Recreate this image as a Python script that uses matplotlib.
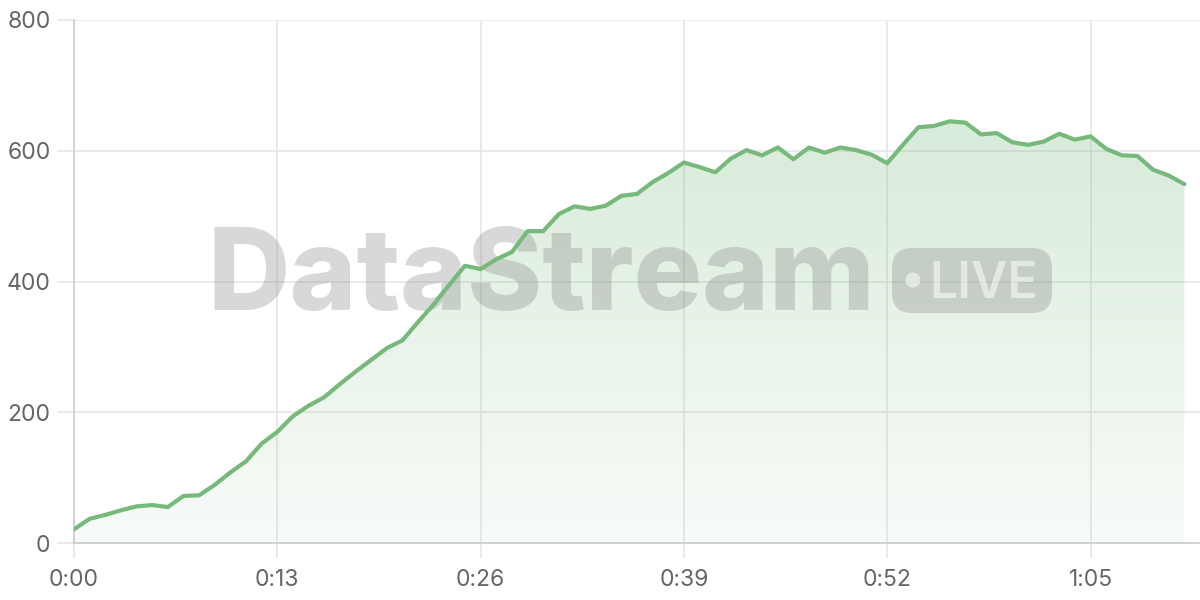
import numpy as np
import matplotlib
matplotlib.use('Agg')
import matplotlib.pyplot as plt
from matplotlib.patches import FancyBboxPatch, Circle
from matplotlib.colors import LinearSegmentedColormap

# one reading per second, 0:00 .. 1:11
seconds = list(range(72))
values = [21, 37, 43, 50, 56, 58, 55, 72, 73, 89,
          108, 125, 152, 170, 194, 210, 223, 243, 262, 280,
          298, 310, 338, 365, 395, 424, 419, 434, 445, 477,
          477, 503, 515, 511, 516, 531, 534, 552, 566, 582,
          575, 567, 588, 601, 593, 605, 587, 605, 597, 605,
          601, 594, 581, 609, 636, 638, 645, 643, 625, 627,
          613, 609, 614, 626, 617, 622, 603, 593, 592, 571,
          562, 549]
x_ticks = [0, 13, 26, 39, 52, 65]
x_labels = ['0:00', '0:13', '0:26', '0:39', '0:52', '1:05']
y_ticks = [0, 200, 400, 600, 800]

line_color = '#76b97b'
grid_color = '#e6e6e6'
text_color = '#666666'

plt.rcParams['font.family'] = ['Inter', 'DejaVu Sans']

fig = plt.figure(figsize=(12, 6), dpi=100)
ax = fig.add_axes([74 / 1200, 57 / 600, 1126 / 1200, 523 / 600])
ax.set_xlim(0, 72)
ax.set_ylim(0, 800)

# gradient fill under the line
cmap = LinearSegmentedColormap.from_list(
    'g', [(0.455, 0.725, 0.478, 0.05), (0.455, 0.725, 0.478, 0.30)])
grad = np.linspace(0, 1, 256).reshape(-1, 1)
img = ax.imshow(grad, cmap=cmap, origin='lower', aspect='auto',
                extent=[0, 72, 0, 700], zorder=1)
poly = ax.fill_between(seconds, values, 0, color='none', lw=0)
img.set_clip_path(poly.get_paths()[0], transform=ax.transData)

ax.plot(seconds, values, color=line_color, lw=3, zorder=5,
        solid_joinstyle='round', solid_capstyle='round')

# watermark text sits under the line
ax.text(208 / 1200, 1 - 310 / 600, 'DataStream', transform=fig.transFigure,
        fontsize=82, fontweight='heavy', color=(0.5, 0.5, 0.5, 0.3),
        va='baseline', ha='left', zorder=3)

# LIVE badge on an overlay in pixel units
ov = fig.add_axes([0, 0, 1, 1], zorder=2)
ov.set_xlim(0, 1200)
ov.set_ylim(600, 0)
ov.axis('off')
ov.add_patch(FancyBboxPatch((892, 248), 160, 65,
                            boxstyle='round,pad=0,rounding_size=20',
                            facecolor=(0.5, 0.5, 0.5, 0.3), edgecolor='none'))
ov.add_patch(Circle((913, 280), 7.5, facecolor=(1, 1, 1, 0.55), edgecolor='none'))
ov.text(929, 298, 'LIVE', fontsize=36, fontweight='semibold',
        color=(1, 1, 1, 0.55), va='baseline', ha='left')

ax.set_xticks(x_ticks)
ax.set_xticklabels(x_labels)
ax.set_yticks(y_ticks)
ax.grid(True, color=grid_color, lw=1.2, zorder=0)
ax.set_axisbelow(True)
ax.tick_params(axis='both', colors=grid_color, labelcolor=text_color,
               labelsize=16.5, width=1.2)
ax.tick_params(axis='y', length=12, pad=5)
ax.tick_params(axis='x', length=11, pad=8)
for side in ['top', 'right']:
    ax.spines[side].set_visible(False)
for side in ['left', 'bottom']:
    ax.spines[side].set_color('#cccccc')
    ax.spines[side].set_linewidth(1.2)

fig.savefig('out.png', dpi=100, facecolor='white')
